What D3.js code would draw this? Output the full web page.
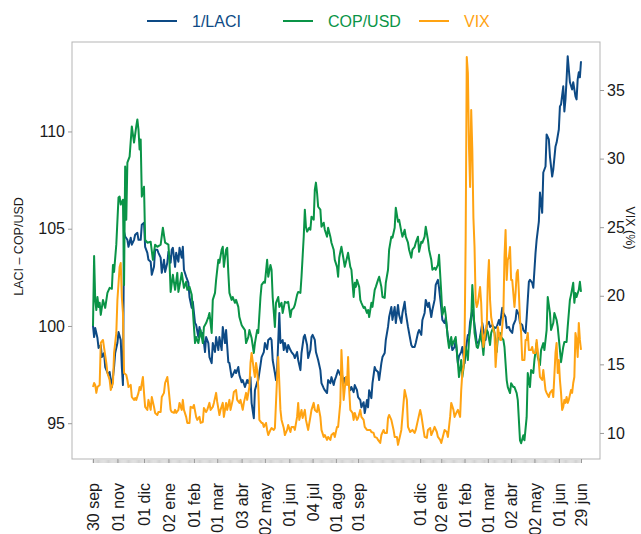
<!DOCTYPE html>
<html>
<head>
<meta charset="utf-8">
<title>1/LACI, COP/USD y VIX</title>
<script src="https://d3js.org/d3.v7.min.js"></script>
<style>
  body { margin: 0; background: #fff; }
  text { font-family: "Liberation Sans", Arial, Helvetica, sans-serif; }
</style>
</head>
<body>
<script>
// x axis: trading-day index, 30 sep 2016 = 0 ... 29 jun 2018 = 440
const tickDays = [0, 22, 46, 68, 91, 112, 134, 155, 177, 198, 219, 239, 295, 314, 335, 356, 377, 398, 420, 440]
const tickLabels = ['30 sep', '01 nov', '01 dic', '02 ene', '01 feb', '01 mar', '03 abr', '02 may', '01 jun', '04 jul',
  '01 ago', '01 sep', '01 dic', '02 ene', '01 feb', '01 mar', '02 abr', '02 may', '01 jun', '29 jun']

const leftTicks = [95, 100, 105, 110]
const rightTicks = [10, 15, 20, 25, 30, 35]

// [day, value]  -- 1/LACI (base 100)
const laci = [[0,100],[1,99.43],[2,99.9],[4,99.38],[5,98.87],[7,99.02],[8,98.4],[10,98.61],[11,97.89],[14,97.47],[15,97.63],[17,96.86],[19,97.89],[20,98.61],[22,99.12],[23,99.69],[25,99.28],[26,97.89],[27,96.96],[28,104.85],[29,104.6],[31,104.43],[32,104.07],[34,104.54],[35,104.18],[37,104.43],[38,104.69],[40,104.79],[41,104.43],[43,104.43],[44,105.21],[46,105.31],[47,104.07],[49,103.76],[50,103.4],[52,103.3],[53,102.63],[55,103.04],[56,103.92],[58,103.92],[59,103.76],[61,103.51],[62,102.73],[64,103.4],[65,102.78],[67,103.25],[68,103.81],[70,103.25],[71,103.92],[72,104.02],[74,103.04],[75,103.76],[77,103.3],[78,104.02],[80,103.51],[81,104.07],[82,102.89],[84,102.53],[86,102.22],[87,101.49],[89,100.93],[90,101.24],[92,100.15],[93,100.05],[95,99.43],[96,99.95],[98,99.43],[99,99.64],[101,98.66],[102,99.43],[104,99.12],[105,98.4],[107,98.09],[108,99.12],[110,98.66],[111,99.43],[113,98.76],[114,99.43],[116,98.76],[117,99.95],[119,99.12],[120,99.79],[122,98.14],[123,98.09],[125,97.37],[126,97.47],[128,97.73],[129,97.58],[131,97.89],[132,97.47],[134,97.11],[135,97.22],[137,96.86],[139,97.22],[140,97.06],[142,97.37],[143,96.03],[145,95.26],[146,96.7],[148,97.11],[149,97.22],[151,97.99],[152,98.4],[154,98.66],[155,99.12],[157,98.81],[158,99.28],[160,99.38],[161,99.28],[162,98.25],[164,97.58],[165,97.22],[166,97.73],[168,100.67],[169,99.12],[171,99.28],[172,98.76],[173,99.12],[175,98.66],[176,99.02],[178,98.76],[179,98.66],[181,98.51],[182,98.35],[184,98.66],[185,98.25],[187,97.73],[188,98.61],[190,99.43],[191,99.54],[193,99.02],[194,98.35],[196,98.76],[197,99.43],[198,99.54],[200,99.28],[201,98.66],[203,98.25],[205,97.73],[206,97.06],[208,96.8],[209,96.7],[211,96.55],[212,97.22],[214,97.06],[215,97.37],[217,96.96],[218,97.22],[219,97.37],[221,97.73],[223,97.47],[224,97.63],[226,97.06],[227,97.32],[229,97.11],[230,97.06],[232,96.7],[233,96.86],[235,96.6],[236,96.96],[238,96.7],[239,96.34],[241,96.19],[242,95.82],[244,96.08],[245,95.52],[247,96.19],[248,95.82],[249,96.7],[251,96.29],[252,97.06],[254,97.89],[255,97.73],[257,97.63],[258,97.22],[260,98.09],[261,98.4],[263,98.61],[264,99.28],[266,99.95],[267,100.46],[269,100.98],[270,100.31],[272,100.98],[273,100.15],[275,101.08],[276,100.57],[278,100.15],[279,100.67],[281,101.24],[282,100.67],[284,99.95],[285,99.64],[287,99.02],[288,98.92],[290,98.92],[291,99.12],[293,99.64],[294,99.79],[296,99.54],[297,100.31],[299,100.67],[300,101.34],[302,100.98],[303,101.19],[305,100.46],[306,100.82],[308,101.34],[309,102.11],[311,102.37],[312,101.96],[314,100.93],[315,100.31],[317,100.15],[318,100.41],[320,99.43],[321,99.18],[323,99.12],[324,98.76],[326,98.92],[327,99.28],[329,98.09],[330,98.45],[332,98.66],[333,98.92],[335,98.09],[336,98.76],[338,99.54],[339,99.54],[340,100.21],[342,100.82],[343,100.46],[345,99.64],[346,99.12],[348,99.18],[349,99.43],[351,100.15],[352,99.79],[354,99.28],[355,100.05],[357,100.21],[358,99.95],[360,100.05],[361,99.95],[363,99.9],[364,99.95],[366,100.31],[367,100.05],[369,100.93],[370,100.67],[372,100.46],[373,99.9],[375,99.95],[376,99.79],[378,99.64],[379,100.05],[381,100.31],[382,100.82],[384,100.57],[385,100.15],[387,100.05],[388,99.79],[390,99.64],[391,100.41],[393,102.27],[394,102.37],[396,102.22],[397,101.96],[399,103.76],[400,104.43],[402,105.36],[403,106.86],[405,105.82],[406,107.89],[408,108.2],[409,109.85],[411,109.59],[412,108.71],[414,107.68],[415,108.04],[417,109.23],[418,109.43],[420,110.1],[421,111.29],[422,111.39],[424,112.32],[425,111.03],[426,111.65],[427,112.68],[428,113.87],[429,113.2],[430,112.53],[432,112.16],[433,112.53],[435,111.8],[436,111.65],[437,112.68],[438,113.04],[439,112.78],[440,113.61]]

// [day, value]  -- COP/USD (base 100)
const cop = [[0,100],[1,103.6],[2,101.34],[3,100.82],[4,101.49],[5,100.98],[6,101.19],[7,100.57],[9,101.34],[11,100.93],[13,101.7],[15,101.96],[17,101.91],[18,103.14],[19,102.78],[21,104.18],[23,106.6],[24,106.65],[25,106.24],[27,106.49],[28,102.11],[29,108.2],[30,105.46],[31,108.4],[33,108.71],[35,110.26],[37,109.43],[39,110.26],[40,110.62],[41,110.1],[42,109.07],[43,109.59],[44,106.65],[46,107.16],[47,104.43],[49,104.28],[52,104.33],[54,103.4],[56,104.18],[58,104.07],[61,104.18],[63,105.05],[65,104.28],[68,104.18],[69,103.25],[70,101.75],[72,102.63],[74,101.86],[76,102.73],[77,101.75],[79,102.37],[80,102.73],[82,101.96],[84,102.27],[85,101.86],[87,102.01],[89,101.6],[90,100.82],[92,99.12],[93,99.43],[95,99.12],[97,99.79],[99,99.12],[100,99.95],[102,100.15],[104,100.46],[105,100.67],[107,99.64],[108,101.34],[110,101.7],[111,102.37],[113,103.4],[114,103.25],[116,103.92],[117,104.07],[118,103.04],[120,103.92],[121,104.02],[122,102.73],[123,101.7],[125,101.34],[126,101.49],[128,101.19],[129,101.34],[131,100.98],[132,100.46],[134,100.05],[135,99.95],[137,99.79],[138,99.12],[140,99.43],[141,99.79],[143,99.38],[145,98.61],[146,99.12],[148,99.79],[149,99.64],[151,101.49],[152,102.11],[154,102.27],[155,102.22],[157,103.4],[158,102.53],[160,103.14],[161,102.89],[162,101.49],[164,99.95],[165,101.19],[167,101.49],[168,100.98],[170,101.19],[171,100.67],[173,101.24],[175,101.19],[176,101.24],[178,100.46],[179,100.82],[181,100.93],[182,101.08],[184,101.6],[185,101.75],[187,101.7],[188,102.53],[190,104.59],[191,105.98],[192,105.1],[193,104.85],[195,105.05],[196,104.95],[197,105.62],[199,105.46],[200,107.01],[201,107.37],[202,106.86],[203,106.13],[205,105.98],[206,105.1],[208,105.31],[209,104.95],[211,104.59],[212,105.05],[214,104.59],[215,104.28],[217,103.92],[218,103.4],[220,103.04],[221,102.53],[222,103.51],[223,103.81],[224,104.07],[226,103.4],[227,103.04],[229,103.51],[230,103.76],[232,103.04],[233,102.89],[235,101.49],[236,102.22],[237,102.01],[238,102.37],[240,102.01],[241,101.34],[242,101.19],[244,100.93],[245,100.98],[247,100.67],[248,100.82],[249,100.46],[251,101.19],[252,100.98],[254,101.86],[255,102.01],[257,102.37],[258,102.53],[260,102.01],[261,101.49],[263,101.44],[264,102.22],[266,102.89],[267,103.92],[269,104.59],[270,104.54],[272,105.05],[273,106.08],[275,105.36],[276,105.46],[278,104.85],[279,104.59],[281,104.95],[282,104.59],[284,104.28],[285,103.92],[287,103.51],[288,103.92],[290,104.07],[291,104.28],[293,104.59],[294,103.81],[296,104.33],[297,104.28],[299,104.59],[300,105.1],[302,104.43],[303,103.92],[305,103.4],[306,102.89],[308,102.99],[309,102.89],[311,103.14],[312,103.66],[314,101.7],[315,100.57],[317,100.98],[318,100.57],[320,99.28],[321,98.87],[323,99.43],[324,99.02],[326,99.28],[327,99.43],[329,98.09],[330,97.37],[332,98.25],[333,97.37],[335,98.25],[336,98.92],[338,98.25],[339,99.28],[341,100.31],[342,102.11],[343,101.19],[344,99.64],[346,98.92],[347,98.87],[349,99.38],[350,99.64],[352,98.51],[353,99.28],[355,99.79],[356,99.69],[358,99.02],[359,99.64],[361,99.95],[362,99.64],[364,98.66],[365,99.38],[367,99.64],[368,99.43],[370,99.28],[371,98.92],[373,97.22],[374,96.86],[376,96.55],[377,97.06],[379,96.86],[380,96.86],[382,96.55],[383,96.19],[385,94.12],[386,93.97],[388,94.38],[389,94.12],[391,95.31],[392,97.58],[394,96.86],[395,97.73],[397,97.58],[398,98.25],[400,99.12],[401,98.4],[403,97.99],[404,98.76],[406,99.12],[407,98.76],[409,99.79],[410,101.49],[412,100.67],[413,99.79],[415,100.15],[416,100.67],[418,100.31],[419,99.95],[421,98.76],[422,98.14],[424,98.92],[425,99.18],[427,99.18],[428,99.95],[430,101.34],[431,101.6],[433,102.22],[434,101.19],[435,101.7],[436,101.49],[438,101.86],[439,102.27],[440,101.75]]

// [day, value]  -- VIX (%)
const vix = [[0,13.35],[1,13.64],[2,13.5],[3,12.92],[4,13.35],[6,13.5],[7,16.56],[9,16.78],[10,16.2],[12,15.1],[13,14.37],[15,13.86],[16,13.13],[18,13.64],[19,15.83],[21,17.29],[22,19.69],[24,22.1],[25,22.39],[26,19.91],[27,18.75],[28,14.37],[30,14.23],[31,13.86],[32,13.35],[34,13.5],[35,12.62],[37,12.41],[38,12.55],[39,12.41],[41,12.92],[42,13.35],[43,13.13],[45,14.08],[46,12.92],[47,11.9],[49,11.68],[50,12.41],[52,11.68],[53,12.62],[55,11.9],[56,11.46],[58,11.31],[59,11.53],[61,11.53],[62,12.62],[64,12.92],[65,13.64],[67,14.08],[68,13.35],[70,11.68],[71,11.53],[73,11.46],[74,11.68],[75,11.46],[77,11.68],[78,12.19],[80,11.68],[81,12.41],[82,11.68],[84,11.17],[85,10.73],[87,10.73],[88,11.9],[90,11.82],[91,12.04],[93,11.17],[94,10.95],[96,11.17],[97,10.73],[99,10.8],[100,11.82],[102,11.53],[103,11.68],[105,12.19],[106,11.68],[108,11.9],[109,12.19],[111,12.92],[112,12.26],[114,11.31],[115,11.68],[117,12.19],[118,11.17],[120,12.19],[121,11.68],[123,12.41],[124,11.68],[126,12.41],[127,12.99],[129,13.13],[130,12.41],[132,12.19],[133,12.41],[135,11.68],[136,12.19],[138,12.92],[139,12.41],[141,13.35],[142,15.1],[143,15.83],[145,14.59],[146,14.08],[147,15.1],[148,14.59],[149,13.35],[150,10.95],[152,10.73],[153,10.73],[154,10.44],[156,10.73],[157,10.22],[158,9.85],[160,10.22],[161,10.36],[163,10.22],[164,10.36],[166,14.08],[167,15.54],[168,13.64],[169,11.68],[170,10.95],[172,10.36],[173,9.85],[175,10.22],[176,10.58],[178,10.07],[179,10.44],[181,10.44],[182,10.22],[184,11.17],[185,12.19],[186,10.95],[188,11.68],[189,11.09],[191,11.68],[192,10.95],[194,10.22],[196,11.17],[197,11.68],[199,12.19],[200,11.68],[202,11.53],[203,12.04],[205,11.17],[206,10.22],[208,9.71],[209,9.85],[211,9.49],[212,9.71],[214,9.49],[215,9.85],[217,10.0],[218,9.71],[220,10.44],[221,10.44],[223,12.19],[224,16.05],[225,14.23],[226,12.41],[228,14.08],[229,13.5],[230,15.54],[231,13.13],[232,11.68],[234,11.46],[235,10.95],[236,11.46],[238,10.95],[239,11.09],[241,11.68],[242,11.17],[244,10.95],[245,10.44],[247,10.22],[248,10.22],[250,10.22],[251,10.07],[253,10.0],[254,9.71],[256,9.64],[257,9.49],[259,9.27],[260,9.85],[262,10.22],[263,10.0],[265,10.0],[266,11.09],[267,11.31],[269,10.95],[271,10.22],[272,9.71],[274,9.71],[275,9.13],[277,9.85],[278,10.22],[280,12.19],[281,13.13],[283,12.41],[284,10.44],[286,10.07],[288,10.22],[290,10.0],[291,10.22],[293,10.95],[295,11.68],[296,11.31],[298,10.22],[299,9.71],[301,9.64],[302,10.22],[304,10.36],[305,9.85],[307,10.22],[308,10.44],[310,10.07],[311,9.71],[313,9.49],[314,9.27],[317,10.22],[319,10.07],[320,9.71],[322,11.17],[323,12.19],[325,11.68],[326,11.17],[328,11.53],[329,11.68],[331,11.17],[332,13.13],[333,14.37],[334,14.81],[335,16.41],[336,24.07],[337,37.41],[338,36.24],[339,30.85],[340,27.93],[341,33.54],[342,30.63],[343,25.67],[344,23.56],[345,19.69],[346,19.18],[347,19.48],[349,20.64],[350,19.48],[351,17.29],[352,16.27],[354,17.51],[355,17.73],[356,21.15],[357,22.61],[358,19.69],[359,18.45],[361,17.51],[362,17.29],[363,14.81],[364,16.05],[365,17.73],[367,16.78],[368,16.78],[370,18.75],[371,22.83],[372,24.8],[373,21.15],[374,22.61],[375,22.83],[376,23.56],[377,21.15],[378,21.15],[380,19.18],[381,20.2],[382,21.66],[383,21.88],[384,20.2],[385,18.24],[386,17.29],[387,15.32],[389,15.32],[390,16.78],[391,16.78],[392,17.29],[393,16.05],[395,16.05],[396,16.27],[397,15.83],[399,15.83],[400,16.78],[402,15.1],[403,14.08],[405,13.86],[406,14.59],[408,13.13],[409,12.92],[411,12.62],[412,12.92],[414,13.13],[415,12.62],[417,15.83],[418,16.56],[419,14.37],[420,15.32],[421,13.86],[422,12.92],[423,11.68],[424,11.9],[425,12.41],[426,12.19],[427,12.62],[428,12.19],[429,12.41],[431,13.13],[432,12.92],[433,13.64],[434,14.08],[435,17.29],[436,16.78],[437,15.54],[438,18.02],[439,16.78],[440,16.05]]

const seriesNames = ['1/LACI', 'COP/USD', 'VIX']
const seriesColors = ['#0d4a85', '#0a9447', '#ffa312']

const width = 641,
      height = 534
const box = { left: 72, right: 600, top: 42, bottom: 459 }

const svg = d3.select('body').append('svg')
    .attr('width', width)
    .attr('height', height)

const x = d3.scaleLinear().domain([0, 440]).range([93, 581])
const yL = d3.scaleLinear().domain([93.16, 114.6]).range([box.bottom, box.top])
const yR = d3.scaleLinear().domain([8.1, 38.5]).range([box.bottom, box.top])

// frame
svg.append('rect')
    .attr('x', box.left).attr('y', box.top)
    .attr('width', box.right - box.left).attr('height', box.bottom - box.top)
    .attr('fill', 'none').attr('stroke', '#b5b5b5')

// daily minor ticks along the bottom
svg.append('g')
    .selectAll('line')
    .data(d3.range(0, 441))
    .enter().append('line')
    .attr('x1', d => x(d)).attr('x2', d => x(d))
    .attr('y1', box.bottom + 1).attr('y2', box.bottom + 4)
    .attr('stroke', '#d2d2d2')

function styleAxis(g) {
    g.select('.domain').remove()
    g.selectAll('.tick line').attr('stroke', '#9a9a9a')
    g.selectAll('.tick text').attr('fill', '#1a1a1a').style('font-size', '16px')
}

svg.append('g')
    .attr('transform', 'translate(' + box.left + ',0)')
    .call(d3.axisLeft(yL).tickValues(leftTicks).tickSize(4).tickPadding(3))
    .call(styleAxis)

svg.append('g')
    .attr('transform', 'translate(' + box.right + ',0)')
    .call(d3.axisRight(yR).tickValues(rightTicks).tickSize(4).tickPadding(3))
    .call(styleAxis)

const xAxis = svg.append('g')
    .attr('transform', 'translate(0,' + box.bottom + ')')
    .call(d3.axisBottom(x).tickValues(tickDays).tickFormat((d, i) => tickLabels[i]).tickSize(4))
    .call(styleAxis)

xAxis.selectAll('.tick text')
    .attr('text-anchor', 'end')
    .attr('x', 0).attr('y', 0)
    .attr('dy', '0.35em')
    .attr('transform', 'translate(0,24) rotate(-90)')

// axis titles
svg.append('text')
    .attr('transform', 'translate(23,' + ((box.top + box.bottom) / 2 - 4) + ') rotate(-90)')
    .attr('text-anchor', 'middle')
    .style('font-size', '12.5px')
    .attr('fill', '#1a1a1a')
    .text('LACI \u2013 COP/USD')

svg.append('text')
    .attr('transform', 'translate(626,228) rotate(90)')
    .attr('text-anchor', 'middle')
    .style('font-size', '12.5px')
    .attr('fill', '#1a1a1a')
    .text('VIX (%)')

// lines
const lineL = d3.line().x(d => x(d[0])).y(d => yL(d[1]))
const lineR = d3.line().x(d => x(d[0])).y(d => yR(d[1]))

const paths = [[laci, lineL], [cop, lineL], [vix, lineR]]
paths.forEach((p, i) => {
    svg.append('path')
        .datum(p[0])
        .attr('d', p[1])
        .attr('fill', 'none')
        .attr('stroke', seriesColors[i])
        .attr('stroke-width', 2)
        .attr('stroke-linejoin', 'round')
})

// legend
const legend = svg.append('g').attr('transform', 'translate(147,21)')
const items = legend.selectAll('g')
    .data(seriesNames)
    .enter().append('g')
    .attr('transform', (d, i) => 'translate(' + i * 136 + ',0)')

items.append('line')
    .attr('x1', 0).attr('x2', 30)
    .attr('stroke', (d, i) => seriesColors[i])
    .attr('stroke-width', 2)

items.append('text')
    .attr('x', 45).attr('dy', '0.36em')
    .style('font-size', '16px')
    .attr('fill', (d, i) => seriesColors[i])
    .text(d => d)
</script>
</body>
</html>
